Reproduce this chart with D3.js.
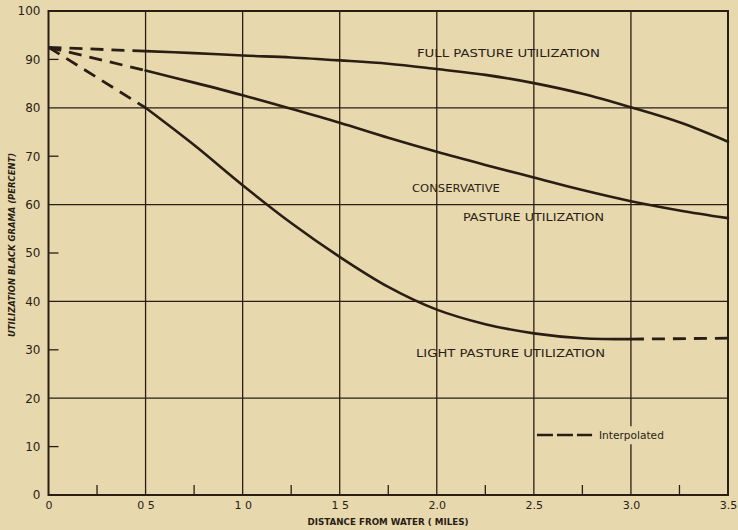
<!DOCTYPE html>
<html>
<head>
<meta charset="utf-8">
<script src="https://cdn.jsdelivr.net/npm/d3@7"></script>
<style>
  html, body { margin: 0; padding: 0; background: #e7d8ae; }
  svg { display: block; }
  text { font-family: "DejaVu Sans", "Liberation Sans", sans-serif; fill: #2a1e14; }
</style>
</head>
<body>
<svg id="chart" width="738" height="530"></svg>
<script>
// ---- data ----
const distances = [0.5, 0.75, 1.0, 1.25, 1.5, 1.75, 2.0, 2.25, 2.5, 2.75, 3.0, 3.25, 3.5];
const fullUtil =        [91.7, 91.3, 90.8, 90.4, 89.8, 89.1, 88.0, 86.8, 85.1, 82.9, 80.1, 77.0, 73.0];
const conservativeUtil = [87.7, 85.2, 82.6, 79.8, 76.9, 73.8, 70.9, 68.2, 65.6, 63.0, 60.7, 58.8, 57.2];
const lightUtil =       [80.0, 72.3, 64.0, 56.2, 49.2, 43.0, 38.3, 35.3, 33.4, 32.4, 32.2];
const lightDistances = [0.5, 0.75, 1.0, 1.25, 1.5, 1.75, 2.0, 2.25, 2.5, 2.75, 3.0];

// interpolated (dashed) segments
const originValue = 92.5;
const fullInterp =  [[0, originValue], [0.5, 91.7]];
const consInterp =  [[0, originValue], [0.5, 87.7]];
const lightInterpStart = [[0, originValue], [0.5, 80.0]];
const lightInterpEnd = [[3.0, 32.2], [3.5, 32.4]];

const xMajorTicks = [0, 0.5, 1.0, 1.5, 2.0, 2.5, 3.0, 3.5];
const xTickLabels = ["0", "0 5", "1 0", "1 5", "2.0", "2.5", "3.0", "3.5"];
const xMinorTicks = [0.25, 0.75, 1.25, 1.75, 2.25, 2.75, 3.25];
const yTicks = [0, 10, 20, 30, 40, 50, 60, 70, 80, 90, 100];
const yGridValues = [20, 40, 60, 80];
const yMinorTicks = [10, 30, 50, 70, 90];

// ---- drawing ----
const ink = "#2a1e14";
const svg = d3.select("#chart");
const x = d3.scaleLinear().domain([0, 3.5]).range([48.5, 728]);
const y = d3.scaleLinear().domain([0, 100]).range([495, 11]);

const g = svg.append("g");

// vertical gridlines (full) at half-mile marks
g.selectAll(".vgrid").data(xMajorTicks.filter(d => d > 0 && d < 3.5)).enter()
  .append("line")
  .attr("x1", d => x(d)).attr("x2", d => x(d))
  .attr("y1", y(100)).attr("y2", y(0))
  .attr("stroke", ink).attr("stroke-width", 1.3);

// horizontal gridlines
g.selectAll(".hgrid").data(yGridValues).enter()
  .append("line")
  .attr("x1", x(0)).attr("x2", x(3.5))
  .attr("y1", d => y(d)).attr("y2", d => y(d))
  .attr("stroke", ink).attr("stroke-width", 1.3);

// minor ticks
g.selectAll(".xminor").data(xMinorTicks).enter()
  .append("line")
  .attr("x1", d => x(d)).attr("x2", d => x(d))
  .attr("y1", y(0)).attr("y2", y(0) - 10)
  .attr("stroke", ink).attr("stroke-width", 1.3);
g.selectAll(".yminor").data(yMinorTicks).enter()
  .append("line")
  .attr("x1", x(0)).attr("x2", x(0) + 10)
  .attr("y1", d => y(d)).attr("y2", d => y(d))
  .attr("stroke", ink).attr("stroke-width", 1.3);

// frame
g.append("rect")
  .attr("x", x(0)).attr("y", y(100))
  .attr("width", x(3.5) - x(0)).attr("height", y(0) - y(100))
  .attr("fill", "none").attr("stroke", ink).attr("stroke-width", 2);

// axes labels via d3 axes
const xAxis = d3.axisBottom(x).tickValues(xMajorTicks)
  .tickFormat((d, i) => xTickLabels[i]).tickSize(0).tickPadding(6);
const xa = svg.append("g").attr("transform", `translate(0,${y(0)})`).call(xAxis);
xa.select(".domain").remove();
xa.selectAll("text").attr("font-size", 11).attr("fill", ink)
  .style("font-family", '"DejaVu Sans", sans-serif');

const yAxis = d3.axisLeft(y).tickValues(yTicks).tickSize(0).tickPadding(8);
const ya = svg.append("g").attr("transform", `translate(${x(0)},0)`).call(yAxis);
ya.select(".domain").remove();
ya.selectAll("text").attr("font-size", 12).attr("fill", ink)
  .style("font-family", '"DejaVu Sans", sans-serif');

// legend background (interrupts gridline)
svg.append("rect")
  .attr("x", x(2.82)).attr("y", y(14.2))
  .attr("width", 70).attr("height", 18)
  .attr("fill", "#e7d8ae");

// curves
const line = d3.line().x(d => x(d[0])).y(d => y(d[1])).curve(d3.curveCatmullRom.alpha(0.5));
const solidStyle = sel => sel.attr("fill", "none").attr("stroke", ink).attr("stroke-width", 2.6).attr("stroke-linecap", "round");
const dashStyle = sel => sel.attr("fill", "none").attr("stroke", ink).attr("stroke-width", 2.8).attr("stroke-dasharray", "13,8");

svg.append("path").datum(distances.map((d, i) => [d, fullUtil[i]])).attr("d", line).call(solidStyle);
svg.append("path").datum(distances.map((d, i) => [d, conservativeUtil[i]])).attr("d", line).call(solidStyle);
svg.append("path").datum(lightDistances.map((d, i) => [d, lightUtil[i]])).attr("d", line).call(solidStyle);

[fullInterp, consInterp, lightInterpStart, lightInterpEnd].forEach(seg => {
  svg.append("path").datum(seg).attr("d", d3.line().x(d => x(d[0])).y(d => y(d[1]))).call(dashStyle);
});

// series labels
const labels = [
  { text: "FULL PASTURE UTILIZATION", x: 1.898, y: 91.3, len: 183 },
  { text: "CONSERVATIVE", x: 1.872, y: 63.4, len: 88 },
  { text: "PASTURE UTILIZATION", x: 2.135, y: 57.4, len: 141 },
  { text: "LIGHT PASTURE UTILIZATION", x: 1.893, y: 29.3, len: 189 }
];
svg.selectAll(".lbl").data(labels).enter().append("text")
  .attr("x", d => x(d.x)).attr("y", d => y(d.y))
  .attr("dy", "0.36em")
  .attr("font-size", 11)
  .attr("textLength", d => d.len).attr("lengthAdjust", "spacingAndGlyphs")
  .text(d => d.text);

// legend
svg.append("line")
  .attr("x1", x(2.516)).attr("x2", x(2.80))
  .attr("y1", y(12.4)).attr("y2", y(12.4))
  .attr("stroke", ink).attr("stroke-width", 2.4).attr("stroke-dasharray", "16,4");
svg.append("text")
  .attr("x", x(2.835)).attr("y", y(12.4)).attr("dy", "0.36em")
  .attr("font-size", 11).attr("textLength", 65).attr("lengthAdjust", "spacingAndGlyphs")
  .text("Interpolated");

// axis titles
svg.append("text")
  .attr("x", 388).attr("y", 525).attr("text-anchor", "middle")
  .attr("font-size", 8.5).attr("font-weight", "bold")
  .attr("textLength", 161).attr("lengthAdjust", "spacingAndGlyphs")
  .text("DISTANCE  FROM  WATER  ( MILES)");
svg.append("text")
  .attr("transform", "translate(15,245) rotate(-90)")
  .attr("text-anchor", "middle")
  .attr("font-size", 9).attr("font-weight", "bold").attr("font-style", "italic")
  .attr("textLength", 184).attr("lengthAdjust", "spacingAndGlyphs")
  .text("UTILIZATION  BLACK  GRAMA (PERCENT)");
</script>
</body>
</html>
